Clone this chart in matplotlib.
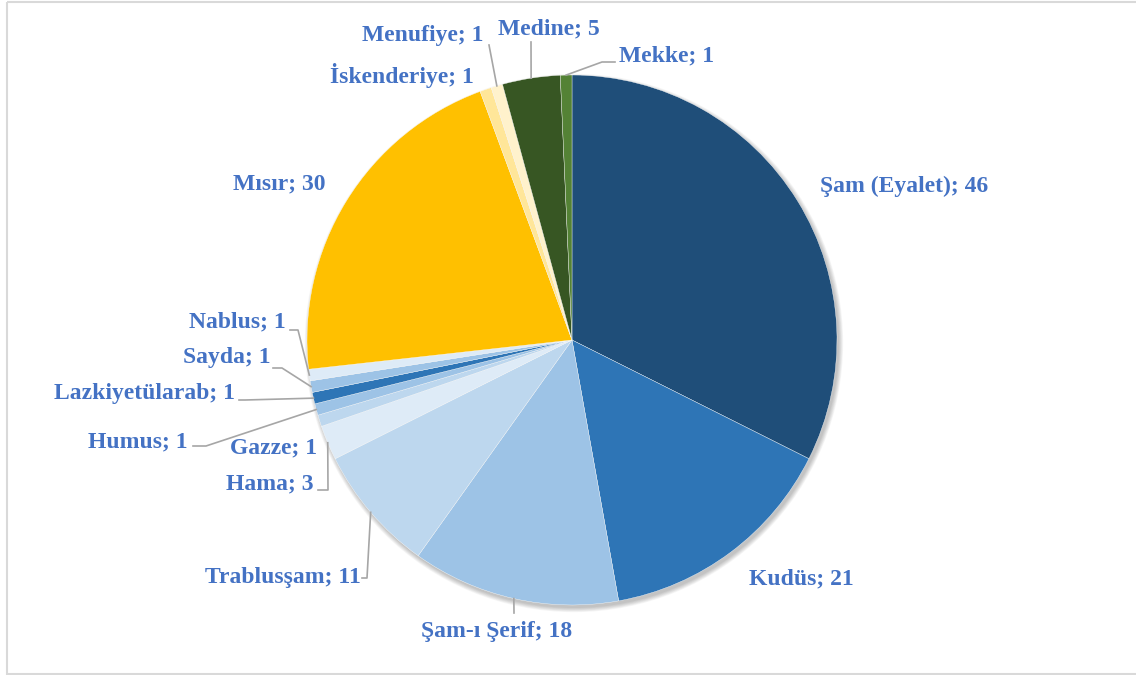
import numpy as np
import matplotlib
matplotlib.use('Agg')
import matplotlib.pyplot as plt
from matplotlib.patches import Circle, Rectangle

# Data (clockwise from 12 o'clock)
names = ['Şam (Eyalet)', 'Kudüs', 'Şam-ı Şerif', 'Trablusşam', 'Hama', 'Gazze',
         'Humus', 'Lazkiyetülarab', 'Sayda', 'Nablus', 'Mısır', 'İskenderiye',
         'Menufiye', 'Medine', 'Mekke']
counts = [46, 21, 18, 11, 3, 1, 1, 1, 1, 1, 30, 1, 1, 5, 1]
colors = ['#1F4E79', '#2E75B6', '#9DC3E6', '#BDD7EE', '#DEEBF7', '#BDD7EE',
          '#9DC3E6', '#2E75B6', '#9DC3E6', '#DEEBF7', '#FFC000', '#FFE699',
          '#FFF2CC', '#375623', '#548235']

# label placement in pixels: text position, alignment, leader bend points
label_pos = [(904, 186, 'center'), (801, 579, 'center'), (497, 631, 'center'),
             (361, 578, 'right'), (313, 484, 'right'), (317, 448, 'right'),
             (188, 442, 'right'), (235, 393, 'right'), (271, 358, 'right'),
             (286, 322, 'right'), (279, 184, 'center'), (402, 75, 'center'),
             (423, 35, 'center'), (549, 29, 'center'), (619, 56, 'left')]
leaders = [None, None, [(514, 613)], [(367, 578), (362, 578)],
           [(328, 490), (318, 490)], None, [(206, 446), (193, 446)],
           [(245, 400), (239, 400)], [(282, 368), (273, 368)],
           [(298, 330), (290, 330)], None, None, [(489, 45)], [(531, 42)],
           [(602, 62), (615, 62)]]

W, H = 1136, 675
cx, cy, rad = 572, 340, 265

fig = plt.figure(figsize=(W / 100., H / 100.), dpi=100)
ax = fig.add_axes([0, 0, 1, 1])

# soft shadow behind the pie
for i in range(7):
    ax.add_patch(Circle((cx + 2, cy + 3), rad + 0.7 * i, color='black',
                        alpha=0.035, lw=0, zorder=0))

# y axis is inverted below, so start at -90 and go counterclockwise in data
wedges, _ = ax.pie(counts, colors=colors, startangle=-90, counterclock=True,
                   radius=rad, center=(cx, cy), frame=True,
                   wedgeprops=dict(edgecolor='white', linewidth=0.25))
for w in wedges:
    w.set_zorder(2)

ax.set_xlim(0, W)
ax.set_ylim(H, 0)
ax.set_aspect('equal')
ax.axis('off')

# chart border
ax.add_patch(Rectangle((7, 2), W + 20, 672, fill=False, edgecolor='#D9D9D9',
                       lw=1.5, zorder=5))

for w, nm, val, (tx, ty, ha), ld in zip(wedges, names, counts, label_pos, leaders):
    ax.text(tx, ty, '%s; %d' % (nm, val), ha=ha, va='center',
            fontsize=17, fontweight='bold', color='#4472C4',
            family=['Liberation Serif', 'DejaVu Serif'], zorder=6)
    if ld is not None:
        mid = np.radians(0.5 * (w.theta1 + w.theta2))
        ex = cx + rad * np.cos(mid)
        ey = cy + rad * np.sin(mid)
        xs = [ex] + [p[0] for p in ld]
        ys = [ey] + [p[1] for p in ld]
        ax.plot(xs, ys, color='#A6A6A6', lw=1.2, zorder=4)

plt.savefig('out.png', dpi=100)
